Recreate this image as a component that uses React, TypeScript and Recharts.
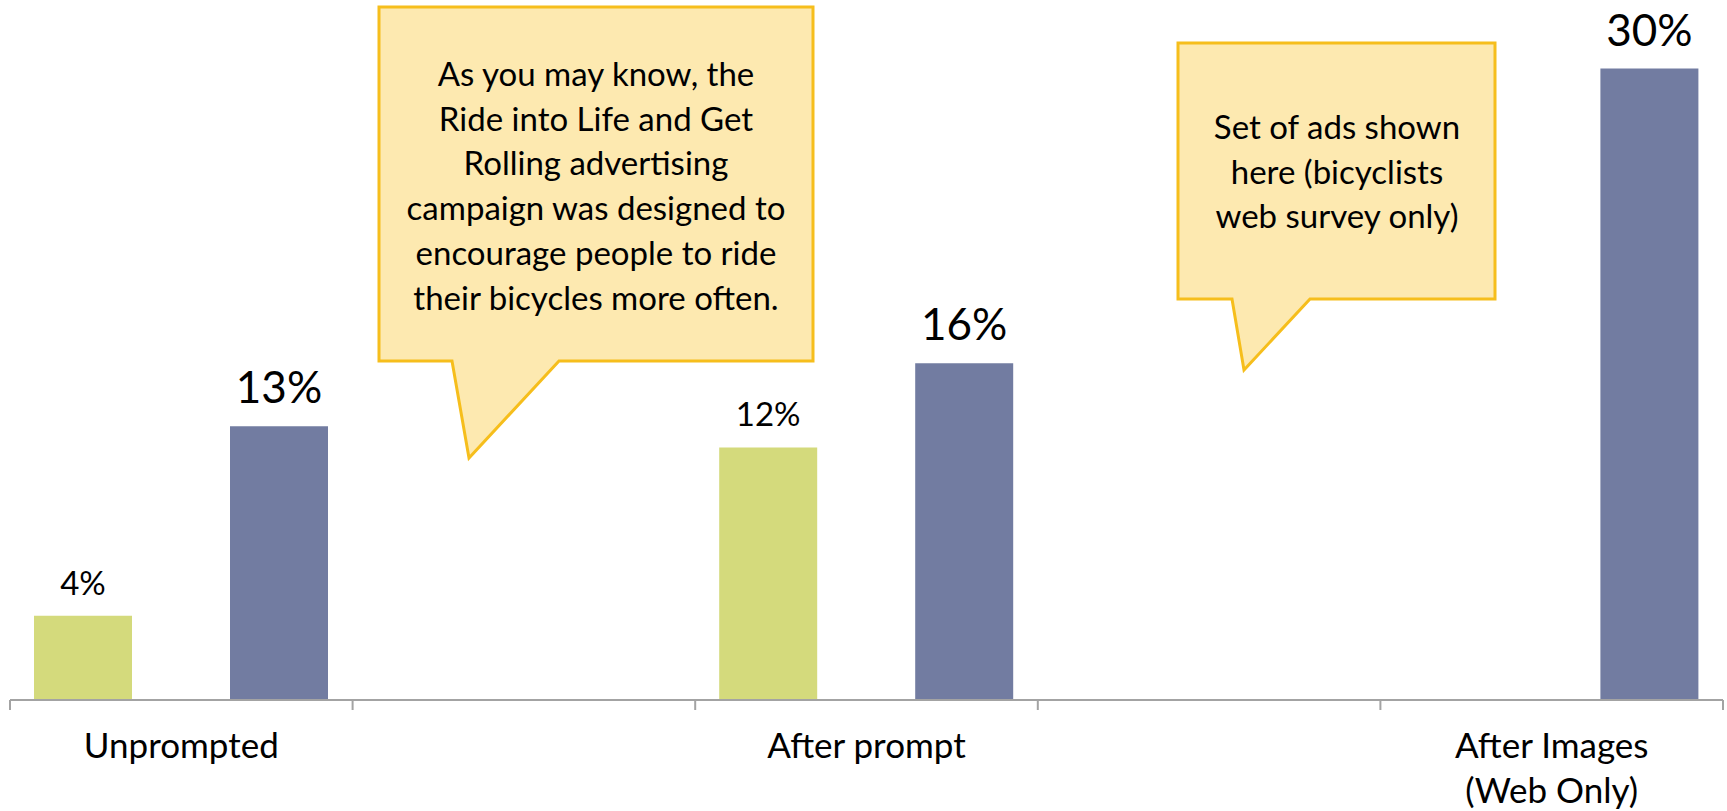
import React from 'react';
import { BarChart, Bar, XAxis, YAxis, LabelList } from 'recharts';

const categories = ['Unprompted', '', 'After prompt', '', 'After Images\n(Web Only)'];
const generalValues = [4, null, 12, null, null];
const cyclistValues = [13, null, 16, null, 30];
const edgeTicks = [0, 1, 2, 3, 4, 5];

const calloutOne = [
  'As you may know, the',
  'Ride into Life and Get',
  'Rolling advertising',
  'campaign was designed to',
  'encourage people to ride',
  'their bicycles more often.',
];
const calloutTwo = ['Set of ads shown', 'here (bicyclists', 'web survey only)'];

const data = categories.map((name, i) => ({
  name,
  slot: i + 0.5,
  general: generalValues[i],
  cyclist: cyclistValues[i],
}));

const FONT = 'Lato, "Open Sans", sans-serif';
const GREEN = '#d4da7c';
const BLUE = '#727ca1';
const AXIS = '#a3a3a3';
const NOTE_FILL = '#fde9b0';
const NOTE_LINE = '#f6be1c';

const pct = (v: any) => (v == null ? '' : `${v}%`);

const CategoryTick = (props: any) => {
  const { x, y, payload } = props;
  const lines = String(payload.value).split('\n');
  return (
    <text x={x} y={y} textAnchor="middle" fontFamily={FONT} fontSize={35} fill="#000">
      {lines.map((line, i) => (
        <tspan key={i} x={x} dy={i === 0 ? 57 : 45}>
          {line}
        </tspan>
      ))}
    </text>
  );
};

const Callout = ({ path, cx, top, lines }: { path: string; cx: number; top: number; lines: string[] }) => (
  <g>
    <path d={path} fill={NOTE_FILL} stroke={NOTE_LINE} strokeWidth={3} strokeLinejoin="miter" />
    <text textAnchor="middle" fontFamily={FONT} fontSize={33} fill="#000">
      {lines.map((line, i) => (
        <tspan key={i} x={cx} y={top + i * 44.7}>
          {line}
        </tspan>
      ))}
    </text>
  </g>
);

export default function App() {
  return (
    <div style={{ position: 'absolute', left: 0, top: 0, width: 1727, height: 811, background: '#fff' }}>
      <BarChart
        width={1727}
        height={811}
        data={data}
        margin={{ top: 26.4, right: 4, left: 10, bottom: 0 }}
        barSize={98}
        barGap={98}
      >
        <XAxis
          xAxisId="b"
          dataKey="name"
          axisLine={false}
          tickLine={false}
          tickSize={0}
          tickMargin={0}
          interval={0}
          height={110}
          tick={<CategoryTick />}
        />
        <XAxis
          xAxisId="a"
          type="number"
          dataKey="slot"
          domain={[0, 5]}
          ticks={edgeTicks}
          interval={0}
          tick={() => <g />}
          tickSize={10}
          tickLine={{ stroke: AXIS, strokeWidth: 2 }}
          axisLine={{ stroke: AXIS, strokeWidth: 2 }}
          height={1}
        />
        <YAxis hide domain={[0, 32]} />
        <Bar xAxisId="b" dataKey="general" fill={GREEN} isAnimationActive={false}>
          <LabelList
            dataKey="general"
            position="top"
            offset={21}
            formatter={pct}
            style={{ fontFamily: FONT, fontSize: 33, fill: '#000' }}
          />
        </Bar>
        <Bar xAxisId="b" dataKey="cyclist" fill={BLUE} isAnimationActive={false}>
          <LabelList
            dataKey="cyclist"
            position="top"
            offset={23}
            formatter={pct}
            style={{ fontFamily: FONT, fontSize: 44, fill: '#000' }}
          />
        </Bar>
      </BarChart>
      <svg
        width={1727}
        height={811}
        style={{ position: 'absolute', left: 0, top: 0, pointerEvents: 'none' }}
      >
        <Callout
          path="M379,7 L813,7 L813,361 L559,361 L469,458 L452,361 L379,361 Z"
          cx={596}
          top={86}
          lines={calloutOne}
        />
        <Callout
          path="M1178,43 L1495,43 L1495,299 L1310,299 L1244,370 L1232,299 L1178,299 Z"
          cx={1337}
          top={139}
          lines={calloutTwo}
        />
      </svg>
    </div>
  );
}
